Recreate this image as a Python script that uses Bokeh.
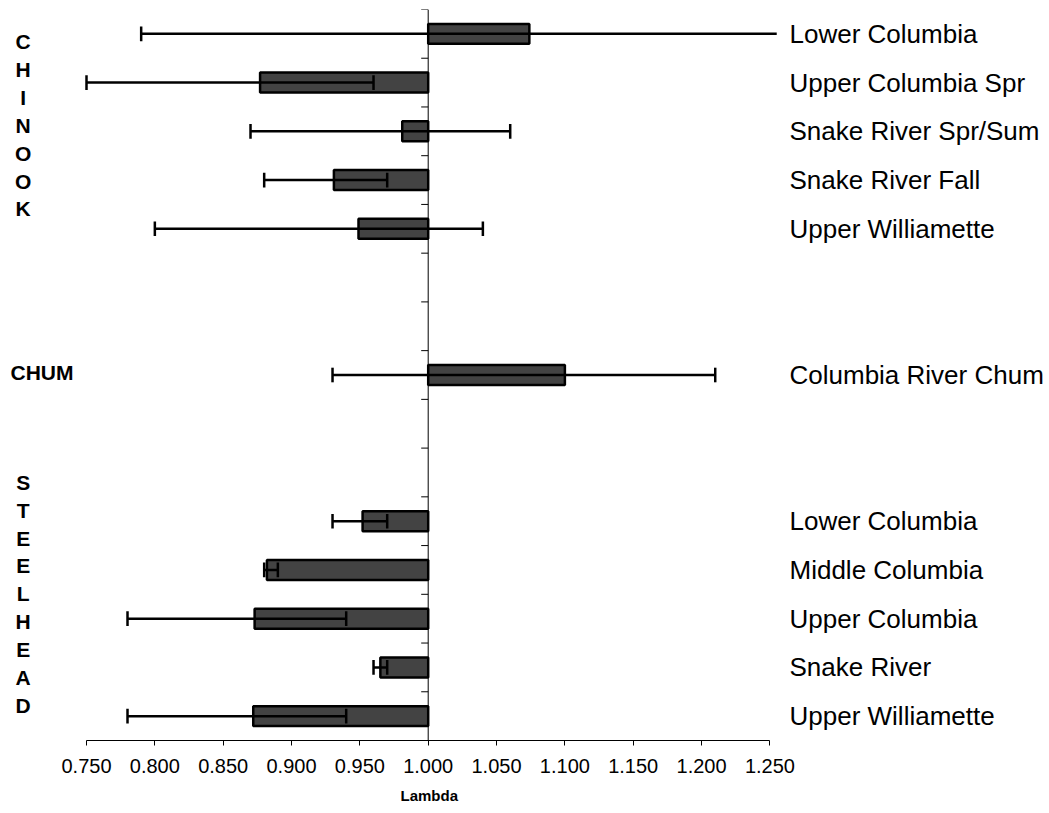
from bokeh.plotting import figure
from bokeh.models import Range1d, FixedTicker, NumeralTickFormatter, ColumnDataSource, Title
from bokeh.core.properties import value
from bokeh.embed import file_html
from bokeh.resources import INLINE

# ---- data ----
slots = ["Lower Columbia", "Upper Columbia Spr", "Snake River Spr/Sum", "Snake River Fall",
         "Upper Williamette", None, None, "Columbia River Chum", None, None,
         "Lower Columbia", "Middle Columbia", "Upper Columbia", "Snake River", "Upper Williamette"]
populations = [s for s in slots if s is not None]
lambda_vals = [1.074, 0.877, 0.981, 0.931, 0.949, 1.100, 0.952, 0.882, 0.873, 0.965, 0.872]
ci_low = [0.790, 0.750, 0.870, 0.880, 0.800, 0.930, 0.930, 0.880, 0.780, 0.960, 0.780]
ci_high = [1.255, 0.960, 1.060, 0.970, 1.040, 1.210, 0.970, 0.890, 0.940, 0.970, 0.940]
x_ticks = [0.75, 0.80, 0.85, 0.90, 0.95, 1.00, 1.05, 1.10, 1.15, 1.20, 1.25]
groups = ["CHINOOK", "CHUM", "STEELHEAD"]
x_title = "Lambda"

rows = [i for i, s in enumerate(slots) if s is not None]
n_slots = len(slots)

# ---- geometry (pixels -> data) ----
W, H = 1049, 813
px_per_unit = 1366.8
x_start = 1.0 - 427.7 / px_per_unit
x_end = x_start + W / px_per_unit
top_border = 9
frame_h = 731
row_px = frame_h / n_slots


def px_x(px):
    return x_start + px / px_per_unit


def px_y(py):
    return -0.5 + (py - top_border) / row_px


p = figure(width=W, height=H, output_backend="svg", toolbar_location=None,
           x_range=Range1d(x_start, x_end), y_range=Range1d(n_slots - 0.5, -0.5),
           y_axis_location=None, min_border_left=0, min_border_right=0,
           min_border_top=top_border, min_border_bottom=H - top_border - frame_h)
p.outline_line_color = None
p.grid.visible = False
p.background_fill_color = "white"
p.border_fill_color = "white"

src = ColumnDataSource(dict(y=rows, lam=lambda_vals, lo=ci_low, hi=ci_high,
                            base=[1.0] * len(rows), name=populations))

# bars
p.hbar(y="y", left="base", right="lam", height=0.41, source=src,
       fill_color="#434343", line_color="black", line_width=2.5)

# error bars
p.segment(x0="lo", y0="y", x1="hi", y1="y", source=src, line_color="black", line_width=2.5)
cap_half = 0.15
cap_x, cap_y0, cap_y1 = [], [], []
for r, lo, hi in zip(rows, ci_low, ci_high):
    for v in (lo, hi):
        if x_ticks[0] <= v <= x_ticks[-1]:
            cap_x.append(v)
            cap_y0.append(r - cap_half)
            cap_y1.append(r + cap_half)
p.segment(x0=cap_x, y0=cap_y0, x1=cap_x, y1=cap_y1, line_color="black", line_width=2.5)

# vertical axis at lambda = 1
p.segment(x0=[1.0], y0=[-0.5], x1=[1.0], y1=[n_slots - 0.5], line_color="black", line_width=1)
bnd = [k - 0.5 for k in range(n_slots + 1)]
p.segment(x0=[1.0 - 7 / px_per_unit] * len(bnd), y0=bnd, x1=[1.0] * len(bnd), y1=bnd,
          line_color="black", line_width=1)

# population labels on the right
p.text(x=[px_x(789)] * len(rows), y=rows, text=populations,
       text_font=value("Liberation Sans"), text_font_size="26px",
       text_baseline="middle", text_align="left", text_color="black")

# group labels on the left
letter_step = 27.9 / row_px
gx, gy, gt = [], [], []
for ch_i, ch in enumerate(groups[0]):
    gx.append(px_x(22.7)); gy.append(px_y(41) + ch_i * letter_step); gt.append(ch)
for ch_i, ch in enumerate(groups[2]):
    gx.append(px_x(22.7)); gy.append(px_y(481.7) + ch_i * letter_step); gt.append(ch)
p.text(x=gx, y=gy, text=gt, text_font=value("Liberation Sans"), text_font_size="21px",
       text_font_style="bold", text_baseline="middle", text_align="center", text_color="black")
p.text(x=[px_x(10)], y=[px_y(372)], text=[groups[1]], text_font=value("Liberation Sans"),
       text_font_size="21px", text_font_style="bold", text_baseline="middle",
       text_align="left", text_color="black")

# x axis
ax = p.xaxis[0]
ax.bounds = (x_ticks[0], x_ticks[-1])
ax.ticker = FixedTicker(ticks=x_ticks)
ax.formatter = NumeralTickFormatter(format="0.000")
ax.minor_tick_line_color = None
ax.major_tick_in = 0
ax.major_tick_out = 5
ax.axis_line_color = "black"
ax.major_tick_line_color = "black"
ax.major_label_text_font = "Liberation Sans"
ax.major_label_text_font_size = "20px"
ax.major_label_text_color = "black"
ax.major_label_standoff = 13

# axis title centred under lambda = 1
t = Title(text=x_title, align="left", offset=400, text_font="Liberation Sans",
          text_font_size="15px", text_font_style="bold", text_color="black",
          standoff=19)
p.add_layout(t, "below")

open("out.html", "w").write(file_html(p, INLINE))
